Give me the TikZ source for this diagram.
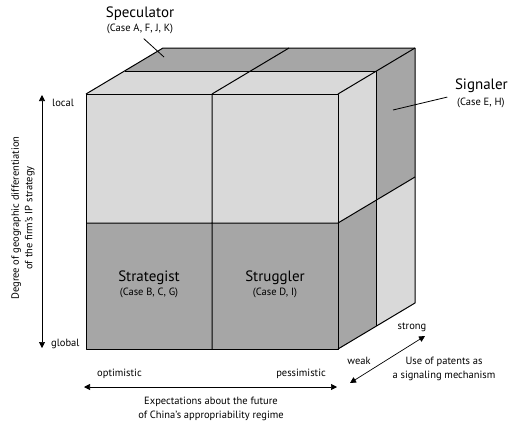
\documentclass[tikz,border=0pt]{standalone}
\usepackage{fontspec}
\setmainfont{PT Sans}
\usetikzlibrary{arrows.meta,positioning}

\colorlet{cubelight}{gray!30}
\colorlet{cubedark}{gray!70}

\begin{document}
\begin{tikzpicture}[x=1pt, y=-1pt,
        edge/.style={line width=1pt, line join=round},
        lite/.style={fill=cubelight},
        dark/.style={fill=cubedark},
        axis/.style={{Triangle[length=6pt,width=6pt]}-{Triangle[length=6pt,width=6pt]}, line width=0.7pt},
        pointer/.style={line width=0.8pt},
        title/.style={font=\fontsize{15}{16}\selectfont, inner sep=1pt},
        case/.style={font=\fontsize{10.5}{12}\selectfont, inner sep=1pt},
        label/.style={font=\fontsize{10.5}{13.5}\selectfont, inner sep=1pt, align=center}
    ]
    \useasboundingbox (0,0) rectangle (509,424);

    % top face
    \fill[lite] (86,94) -- (338,94) -- (376.5,71) -- (124.5,71) -- cycle;
    \fill[dark] (124.5,71) -- (376.5,71) -- (415,48) -- (163,48) -- cycle;
    % front face
    \fill[lite] (86,94) rectangle (338,223);
    \fill[dark] (86,223) rectangle (338,349);
    % right face
    \fill[lite] (338,94) -- (338,223) -- (376.5,200) -- (376.5,71) -- cycle;
    \fill[dark] (376.5,71) -- (376.5,200) -- (415,177) -- (415,48) -- cycle;
    \fill[dark] (338,223) -- (338,349) -- (376.5,326) -- (376.5,200) -- cycle;
    \fill[lite] (376.5,200) -- (376.5,326) -- (415,303) -- (415,177) -- cycle;

    % edges
    \draw[edge] (86,94) rectangle (338,349);
    \draw[edge] (86,94) -- (163,48) -- (415,48) -- (415,303) -- (338,349);
    \draw[edge] (338,94) -- (415,48);
    \draw[edge] (212,94) -- (212,349) (86,223) -- (338,223) -- (415,177);
    \draw[edge] (124.5,71) -- (376.5,71) -- (376.5,326);
    \draw[edge] (212,94) -- (289,48);

    % types
    \node[title] (strategist) at (149,278) {Strategist};
    \node[case, below=1pt of strategist] (strategist-case) {(Case B, C, G)};
    \node[title] (struggler) at (275,278) {Struggler};
    \node[case, below=1pt of struggler] (struggler-case) {(Case D, I)};

    \node[title] (speculator) at (140,14) {Speculator};
    \node[case, below=1pt of speculator] (speculator-case) {(Case A, F, J, K)};
    \coordinate (speculator-pt) at (164,57);
    \draw[pointer, shorten <=5pt] (speculator-case.south) -- (speculator-pt);

    \node[title, anchor=east] (signaler) at (509,86) {Signaler};
    \node[case, anchor=west] (signaler-case) at (456,103) {(Case E, H)};
    \coordinate (signaler-pt) at (393,110);
    \draw[pointer, shorten <=9pt] (signaler-case.west |- 0,95) -- (signaler-pt);

    % vertical axis
    \node[label, anchor=west] (local) at (51,103) {local};
    \node[label, anchor=west] (global) at (50,344) {global};
    \coordinate (v-top) at (42,95);
    \coordinate (v-bot) at (42,348);
    \draw[axis] (v-top) -- (v-bot);
    \node[label, rotate=90] (v-title) at (23,218)
        {Degree of geographic differentiation\\of the firm's IP strategy};

    % horizontal axis
    \node[label, anchor=west] (optimistic) at (96,374) {optimistic};
    \node[label, anchor=east] (pessimistic) at (327,374) {pessimistic};
    \coordinate (h-left) at (84,387);
    \coordinate (h-right) at (337,387);
    \draw[axis] (h-left) -- (h-right);
    \node[label] (h-title) at (211,409)
        {Expectations about the future\\of China's appropriability regime};

    % depth axis
    \node[label] (weak) at (359,361) {weak};
    \node[label] (strong) at (412,327) {strong};
    \coordinate (d-front) at (350,383);
    \coordinate (d-back) at (425,336);
    \draw[axis] (d-front) -- (d-back);
    \node[label] (d-title) at (444,369)
        {Use of patents as\\a signaling mechanism};
\end{tikzpicture}
\end{document}
